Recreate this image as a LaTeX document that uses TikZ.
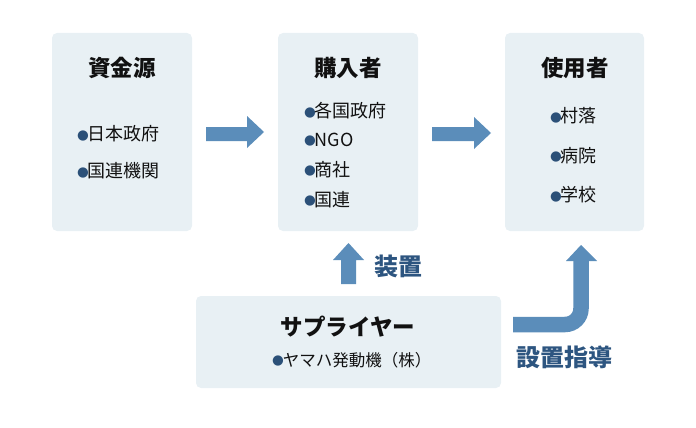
\documentclass[tikz,border=0pt]{standalone}
\usepackage{fontspec}
\setmainfont{Noto Sans CJK JP}
\newfontfamily\dejavu{DejaVu Sans}
\definecolor{boxfill}{HTML}{E8F0F4}
\definecolor{arrowblue}{HTML}{5B8DBA}
\definecolor{labelblue}{HTML}{2D5580}
\definecolor{bulletblue}{HTML}{2B5078}
\definecolor{titleblack}{HTML}{111111}
\tikzset{
  panel/.style={fill=boxfill, draw=none, rounded corners=5pt},
  titletext/.style={font=\fontsize{22.5}{22.5}\selectfont\bfseries, text=titleblack, inner sep=0pt},
  itemtext/.style={font=\fontsize{18}{18}\selectfont, text=titleblack, anchor=west, inner sep=0pt},
  smallitem/.style={font=\fontsize{16.5}{16.5}\selectfont, text=titleblack, anchor=west, inner sep=0pt},
  flowlabel/.style={font=\fontsize{24}{24}\selectfont\bfseries, text=labelblue, inner sep=0pt},
  arrowshaft/.style={fill=arrowblue, draw=none},
}
\newcommand{\bul}{\textcolor{bulletblue}{\raisebox{1.6pt}{\dejavu\fontsize{13.5}{13.5}\selectfont ●}}\hspace{-1pt}}
\begin{document}
\begin{tikzpicture}[x=1pt,y=-1pt]
\useasboundingbox (0,0) rectangle (696,428);
% panels
\path[panel] (52,33) rectangle (192,231);
\path[panel] (278,33) rectangle (418,231);
\path[panel] (505,33) rectangle (644,231);
\path[panel] (196,296) rectangle (501,388);
% titles
\node[titletext] (t1) at (122,68) {資金源};
\node[titletext] (t2) at (348,68) {購入者};
\node[titletext] (t3) at (575,68) {使用者};
\node[titletext] (t4) at (348,327) {サプライヤー};
% items
\node[itemtext] (a1) at (77,134) {\bul 日本政府};
\node[itemtext] (a2) at (77,171) {\bul 国連機関};
\node[itemtext] (b1) at (304,111) {\bul 各国政府};
\node[itemtext] (b2) at (304,140) {\bul NGO};
\node[itemtext] (b3) at (304,169.5) {\bul 商社};
\node[itemtext] (b4) at (304,199.5) {\bul 国連};
\node[itemtext] (c1) at (550,116) {\bul 村落};
\node[itemtext] (c2) at (550,155.5) {\bul 病院};
\node[itemtext] (c3) at (550,195) {\bul 学校};
\node[smallitem] (s1) at (272,360) {\bul ヤマハ発動機（株）};
% labels
\node[flowlabel] (l1) at (398,266) {装置};
\node[flowlabel] (l2) at (564,357) {設置指導};
% arrow 1
\path[arrowshaft] (206,127) -- (247,127) -- (247,116) -- (264,132) -- (247,148) -- (247,141) -- (206,141) -- cycle;
% arrow 2
\path[arrowshaft] (432,127) -- (474,127) -- (474,117) -- (491,133) -- (474,149) -- (474,141) -- (432,141) -- cycle;
% up arrow
\path[arrowshaft] (341,284) -- (341,260) -- (333,260) -- (348.5,243) -- (364,260) -- (356,260) -- (356,284) -- cycle;
% bent arrow
\draw[arrowblue, line width=15.5pt, rounded corners=16pt] (513,324.5) -- (581,324.5) -- (581,260);
\path[arrowshaft] (566,261) -- (581,245) -- (597,261) -- cycle;
\end{tikzpicture}
\end{document}
